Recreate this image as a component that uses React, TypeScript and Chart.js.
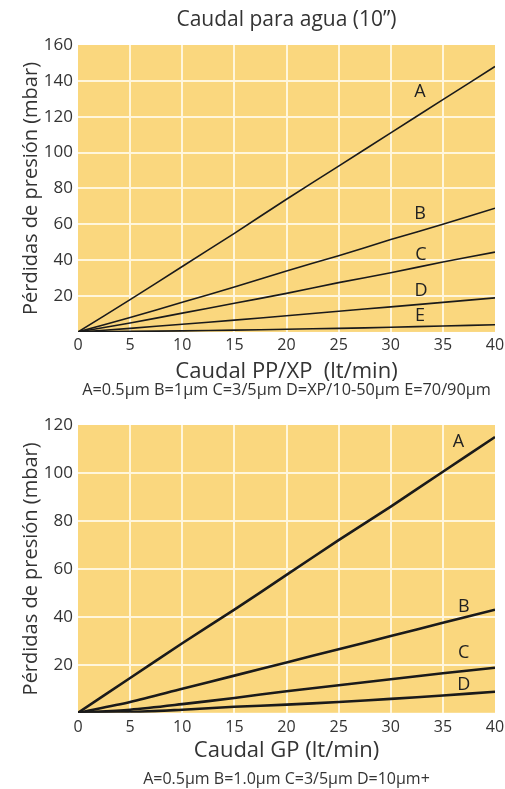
import React, { useEffect, useRef } from "react";
import { Chart, registerables } from "chart.js";

Chart.register(...registerables);

const X_VALUES = [0, 5, 10, 15, 20, 25, 30, 35, 40];
const X_TICKS = [0, 5, 10, 15, 20, 25, 30, 35, 40];

// Top chart: PP/XP
const TOP_A = [0, 18, 36.5, 55, 74, 92.5, 111, 129.5, 148];
const TOP_B = [0, 8, 16.5, 25, 34, 42.5, 51.5, 60, 69];
const TOP_C = [0, 5, 10.5, 16, 21.5, 27.5, 33, 39, 44.5];
const TOP_D = [0, 2, 4.3, 6.6, 9, 11.5, 14, 16.5, 19];
const TOP_E = [0, 0.3, 0.6, 1, 1.5, 2, 2.6, 3.3, 4];
const TOP_Y_TICKS = [20, 40, 60, 80, 100, 120, 140, 160];
const TOP_NAMES = ["A", "B", "C", "D", "E"];
const TOP_LABEL_X = [32.8, 32.8, 32.9, 32.9, 32.8];
const TOP_LABEL_Y = [134, 66, 43, 23, 9];

// Bottom chart: GP
const BOT_A = [0, 14.5, 29, 43, 57.5, 72, 86, 100.5, 115];
const BOT_B = [0, 4.5, 10, 15.5, 21, 26.5, 32, 37.5, 43];
const BOT_C = [0, 1.3, 3.6, 6.2, 9, 11.5, 14, 16.5, 18.8];
const BOT_D = [0, 0.3, 1.3, 2.5, 3.4, 4.5, 5.8, 7.2, 8.8];
const BOT_Y_TICKS = [20, 40, 60, 80, 100, 120];
const BOT_NAMES = ["A", "B", "C", "D"];
const BOT_LABEL_X = [36.5, 37, 37, 37];
const BOT_LABEL_Y = [113, 44, 25, 11.7];

const FONT = "'Open Sans', 'Noto Sans', sans-serif";
const TEXT = "#333333";
const BG = "#FAD77E";
const GRID = "#FFF6DC";

function makeConfig(opts: {
  series: number[][];
  names: string[];
  labelX: number[];
  labelY: number[];
  yTicks: number[];
  yMax: number;
  title: string | null;
  xTitle: string;
  xTitlePadBottom: number;
  xScaleHeight: number;
  caption: string;
  captionSize: number;
  captionPadTop: number;
  lineWidth: number;
  topPad: number;
  tickPad: number;
}) {
  const bgPlugin = {
    id: "bgfill",
    beforeDraw(chart: any) {
      const { ctx, chartArea } = chart;
      ctx.save();
      ctx.fillStyle = BG;
      ctx.fillRect(chartArea.left, chartArea.top, chartArea.right - chartArea.left, chartArea.bottom - chartArea.top);
      ctx.restore();
    },
  };
  const labelPlugin = {
    id: "curveLabels",
    afterDatasetsDraw(chart: any) {
      const { ctx, scales } = chart;
      ctx.save();
      ctx.fillStyle = "#222";
      ctx.font = `18px ${FONT}`;
      ctx.textAlign = "center";
      ctx.textBaseline = "middle";
      opts.names.forEach((n, i) => {
        ctx.fillText(n, scales.x.getPixelForValue(opts.labelX[i]), scales.y.getPixelForValue(opts.labelY[i]));
      });
      ctx.restore();
    },
  };
  return {
    type: "line" as const,
    data: {
      datasets: opts.series.map((s, i) => ({
        label: opts.names[i],
        data: s.map((v, j) => ({ x: X_VALUES[j], y: v })),
        borderColor: "#1a1a1a",
        borderWidth: opts.lineWidth,
        pointRadius: 0,
        tension: 0.3,
        fill: false,
      })),
    },
    options: {
      animation: false as const,
      responsive: false,
      maintainAspectRatio: false,
      layout: { padding: { left: 0, right: 10, top: opts.topPad, bottom: 0 } },
      plugins: {
        legend: { display: false },
        tooltip: { enabled: false },
        title: opts.title
          ? {
              display: true,
              text: opts.title,
              color: TEXT,
              fullSize: false,
              font: { family: FONT, size: 21, weight: "normal" as const },
              padding: { top: 7, bottom: 12.8 },
            }
          : { display: false },
        subtitle: {
          display: true,
          position: "bottom" as const,
          text: opts.caption,
          color: TEXT,
          fullSize: false,
          font: { family: FONT, size: opts.captionSize, weight: "normal" as const },
          padding: { top: opts.captionPadTop, bottom: 0 },
        },
      },
      scales: {
        x: {
          type: "linear" as const,
          min: 0,
          max: 40,
          afterBuildTicks(scale: any) {
            scale.ticks = X_TICKS.map((v) => ({ value: v }));
          },
          afterFit(scale: any) {
            scale.height = opts.xScaleHeight;
            scale.paddingRight = 0;
            scale.paddingLeft = 0;
          },
          border: { display: false },
          grid: {
            drawTicks: false,
            lineWidth: 2,
            color: (c: any) => (c.tick && (c.tick.value === 0 || c.tick.value === 40) ? "rgba(0,0,0,0)" : GRID),
          },
          ticks: { color: TEXT, font: { family: FONT, size: 16 }, padding: opts.tickPad },
          title: {
            display: true,
            text: opts.xTitle,
            color: TEXT,
            font: { family: FONT, size: 22 },
            padding: { top: 0, bottom: opts.xTitlePadBottom },
          },
        },
        y: {
          type: "linear" as const,
          min: 0,
          max: opts.yMax,
          afterBuildTicks(scale: any) {
            scale.ticks = opts.yTicks.map((v) => ({ value: v }));
          },
          afterFit(scale: any) {
            scale.width = 78;
          },
          border: { display: false },
          grid: {
            drawTicks: false,
            lineWidth: 2,
            color: (c: any) => (c.tick && c.tick.value === opts.yMax ? "rgba(0,0,0,0)" : GRID),
          },
          ticks: { color: TEXT, font: { family: FONT, size: 17 }, padding: 5 },
          title: {
            display: true,
            text: "Pérdidas de presión (mbar)",
            color: TEXT,
            font: { family: FONT, size: 20 },
            padding: { top: 19, bottom: 0 },
          },
        },
      },
    },
    plugins: [bgPlugin, labelPlugin],
  };
}

function ChartCanvas({ cfg, width, height }: { cfg: any; width: number; height: number }) {
  const ref = useRef<HTMLCanvasElement | null>(null);
  useEffect(() => {
    if (!ref.current) return;
    const chart = new Chart(ref.current, cfg);
    return () => chart.destroy();
  }, []);
  return <canvas ref={ref} width={width} height={height} style={{ display: "block", width, height }} />;
}

export default function App() {
  const top = makeConfig({
    series: [TOP_A, TOP_B, TOP_C, TOP_D, TOP_E],
    names: TOP_NAMES,
    labelX: TOP_LABEL_X,
    labelY: TOP_LABEL_Y,
    yTicks: TOP_Y_TICKS,
    yMax: 160,
    title: "Caudal para agua (10”)",
    xTitle: "Caudal PP/XP  (lt/min)",
    xTitlePadBottom: -4,
    xScaleHeight: 48.5,
    caption: "A=0.5µm B=1µm C=3/5µm D=XP/10-50µm E=70/90µm",
    captionSize: 16.3,
    captionPadTop: 0,
    lineWidth: 1.6,
    topPad: 0,
    tickPad: 4,
  });
  const bottom = makeConfig({
    series: [BOT_A, BOT_B, BOT_C, BOT_D],
    names: BOT_NAMES,
    labelX: BOT_LABEL_X,
    labelY: BOT_LABEL_Y,
    yTicks: BOT_Y_TICKS,
    yMax: 120,
    title: null,
    xTitle: "Caudal GP (lt/min)",
    xTitlePadBottom: 0,
    xScaleHeight: 51,
    caption: "A=0.5µm B=1.0µm C=3/5µm D=10µm+",
    captionSize: 16,
    captionPadTop: 6,
    lineWidth: 2.6,
    topPad: 25,
    tickPad: 5,
  });
  return (
    <div style={{ position: "fixed", left: 0, top: 0, width: 505, height: 789, background: "#fff" }}>
      <ChartCanvas cfg={top} width={505} height={400} />
      <ChartCanvas cfg={bottom} width={505} height={389} />
    </div>
  );
}
